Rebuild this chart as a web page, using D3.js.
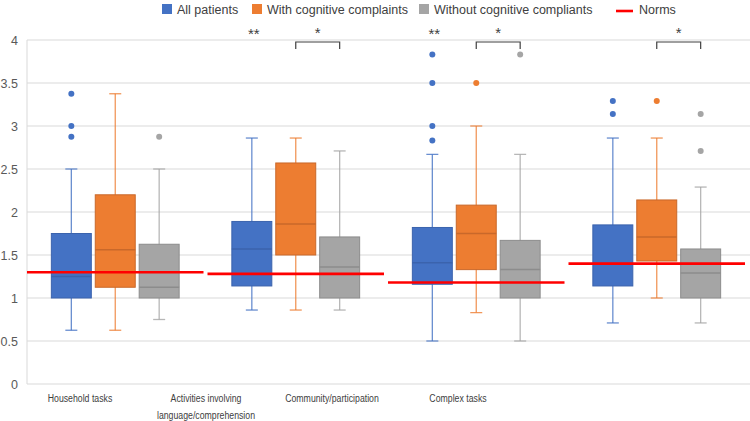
<!DOCTYPE html>
<html>
<head>
<meta charset="utf-8">
<script src="https://cdn.jsdelivr.net/npm/d3@7"></script>
<style>
  body { margin: 0; background: #fff; }
  svg { font-family: "Liberation Sans", Arial, sans-serif; }
</style>
</head>
<body>
<svg width="750" height="421"></svg>
<script>
const categories = ["Household tasks", "Activities involving language/comprehension", "Community/participation", "Complex tasks"];
const series = ["All patients", "With cognitive complaints", "Without cognitive compliants"];
const colors = ["#4472C4", "#ED7D31", "#A5A5A5"];
const darker = ["#3b63ad", "#c9682a", "#8c8c8c"];

// [min, q1, median, q3, max]
const allPatients = [[0.625, 1.0, 1.25, 1.75, 2.5], [0.86, 1.14, 1.57, 1.89, 2.86], [0.5, 1.16, 1.41, 1.82, 2.67], [0.71, 1.14, 1.40, 1.85, 2.86]];
const withComplaints = [[0.625, 1.125, 1.5625, 2.2, 3.375], [0.86, 1.5, 1.86, 2.57, 2.86], [0.83, 1.33, 1.75, 2.08, 3.0], [1.0, 1.43, 1.71, 2.14, 2.86]];
const withoutComplaints = [[0.75, 1.0, 1.125, 1.625, 2.5], [0.86, 1.0, 1.36, 1.71, 2.71], [0.5, 1.0, 1.33, 1.67, 2.67], [0.71, 1.0, 1.29, 1.57, 2.29]];

const allOutliers = [[2.875, 3.0, 3.375], [], [2.83, 3.0, 3.5, 3.83], [3.14, 3.29]];
const withOutliers = [[], [], [3.5], [3.29]];
const withoutOutliers = [[2.875], [], [3.83], [2.71, 3.14]];

const norms = [1.3, 1.28, 1.18, 1.40];
const overallSig = ["", "**", "**", ""];
const pairSig = ["", "*", "*", "*"];
const yTicks = [0, 0.5, 1, 1.5, 2, 2.5, 3, 3.5, 4];

const stats = [allPatients, withComplaints, withoutComplaints];
const outliers = [allOutliers, withOutliers, withoutOutliers];

const svg = d3.select('svg');

const x0 = d3.scaleBand().domain(categories).range([25, 747]);
const x1 = d3.scaleBand().domain(series).range([0, x0.bandwidth()]).paddingInner(0.09).paddingOuter(0.6);
const xl = d3.scaleBand().domain(categories).range([17, 521]);
const y = d3.scaleLinear().domain([0, 4]).range([384, 40]);

// gridlines
svg.append('g')
  .selectAll('line')
  .data(yTicks)
  .enter()
  .append('line')
  .attr('x1', 27).attr('x2', 750)
  .attr('y1', d => y(d)).attr('y2', d => y(d))
  .attr('stroke', '#d9d9d9').attr('stroke-width', 1);

svg.append('line')
  .attr('x1', 27).attr('x2', 27)
  .attr('y1', y(0)).attr('y2', y(4))
  .attr('stroke', '#d9d9d9');

// y axis
const yAxis = svg.append('g')
  .attr('transform', 'translate(27,0)')
  .call(d3.axisLeft(y).tickValues(yTicks).tickSize(0).tickPadding(9).tickFormat(d3.format('')));
yAxis.select('.domain').remove();
yAxis.selectAll('text')
  .attr('fill', '#595959')
  .style('font-size', '12.5px')
  .style('font-family', '"Liberation Sans", Arial, sans-serif');

// x labels (squeezed horizontally, the original font is a narrow one)
const xAxis = svg.append('g')
  .attr('transform', 'translate(0,384)')
  .call(d3.axisBottom(xl).tickSize(0).tickPadding(10));
xAxis.select('.domain').remove();
xAxis.selectAll('text')
  .attr('fill', '#404040')
  .attr('transform', 'scale(0.76,1)')
  .style('font-size', '11.5px')
  .style('font-family', '"Liberation Sans", Arial, sans-serif')
  .each(function(d) {
    const t = d3.select(this);
    let lines = [d];
    if (d.length > 24) {
      const k = d.lastIndexOf(' ');
      lines = [d.slice(0, k), d.slice(k + 1)];
    }
    t.text(null);
    lines.forEach((l, i) => {
      t.append('tspan').attr('x', 0).attr('dy', i === 0 ? '0.71em' : '1.45em').text(l);
    });
  });

// boxes
const boxData = [];
series.forEach((s, si) => {
  categories.forEach((c, ci) => {
    const [mn, q1, md, q3, mx] = stats[si][ci];
    boxData.push({ s, si, c, mn, q1, md, q3, mx, out: outliers[si][ci] });
  });
});

const bw = x1.bandwidth();
const g = svg.append('g')
  .selectAll('g')
  .data(boxData)
  .enter()
  .append('g')
  .attr('transform', d => `translate(${x0(d.c) + x1(d.s)},0)`);

// whiskers
g.append('line')
  .attr('x1', bw / 2).attr('x2', bw / 2)
  .attr('y1', d => y(d.mx)).attr('y2', d => y(d.mn))
  .attr('stroke', d => colors[d.si]).attr('stroke-opacity', 0.8).attr('stroke-width', 1.3);
g.append('line')
  .attr('x1', bw / 2 - 6).attr('x2', bw / 2 + 6)
  .attr('y1', d => y(d.mx)).attr('y2', d => y(d.mx))
  .attr('stroke', d => colors[d.si]).attr('stroke-opacity', 0.8).attr('stroke-width', 1.3);
g.append('line')
  .attr('x1', bw / 2 - 6).attr('x2', bw / 2 + 6)
  .attr('y1', d => y(d.mn)).attr('y2', d => y(d.mn))
  .attr('stroke', d => colors[d.si]).attr('stroke-opacity', 0.8).attr('stroke-width', 1.3);

g.append('rect')
  .attr('x', 0).attr('width', bw)
  .attr('y', d => y(d.q3))
  .attr('height', d => y(d.q1) - y(d.q3))
  .attr('fill', d => colors[d.si])
  .attr('stroke', d => darker[d.si]).attr('stroke-width', 1);

g.append('line')
  .attr('x1', 0).attr('x2', bw)
  .attr('y1', d => y(d.md)).attr('y2', d => y(d.md))
  .attr('stroke', d => darker[d.si]).attr('stroke-width', 1.5);

g.selectAll('circle')
  .data(d => d.out.map(v => ({ v, si: d.si })))
  .enter()
  .append('circle')
  .attr('cx', bw / 2)
  .attr('cy', d => y(d.v))
  .attr('r', 3)
  .attr('fill', d => colors[d.si]);

// norms
svg.append('g')
  .selectAll('line')
  .data(categories)
  .enter()
  .append('line')
  .attr('x1', d => x0(d) + 2)
  .attr('x2', d => x0(d) + x0.bandwidth() - 2)
  .attr('y1', (d, i) => y(norms[i]))
  .attr('y2', (d, i) => y(norms[i]))
  .attr('stroke', '#ff0000').attr('stroke-width', 2.6);

// significance
const sig = svg.append('g').attr('fill', '#404040').style('font-size', '15px');
categories.forEach((c, i) => {
  if (overallSig[i]) {
    sig.append('text')
      .attr('x', x0(c) + x1(series[0]) + bw / 2 + 2)
      .attr('y', 39)
      .attr('text-anchor', 'middle')
      .text(overallSig[i]);
  }
  if (pairSig[i]) {
    const a = x0(c) + x1(series[1]) + bw / 2;
    const b = x0(c) + x1(series[2]) + bw / 2;
    sig.append('path')
      .attr('d', `M${a},49V42H${b}V49`)
      .attr('fill', 'none')
      .attr('stroke', '#404040').attr('stroke-width', 1.2);
    sig.append('text')
      .attr('x', (a + b) / 2)
      .attr('y', 38)
      .attr('text-anchor', 'middle')
      .text(pairSig[i]);
  }
});

// legend
const legendX = [162, 252, 419];
const legend = svg.append('g').style('font-size', '12.5px').attr('fill', '#404040');
series.forEach((s, i) => {
  legend.append('rect')
    .attr('x', legendX[i]).attr('y', 4)
    .attr('width', 10).attr('height', 10)
    .attr('fill', colors[i]);
  legend.append('text')
    .attr('x', legendX[i] + 15).attr('y', 14)
    .text(s);
});
legend.append('line')
  .attr('x1', 616).attr('x2', 633)
  .attr('y1', 11).attr('y2', 11)
  .attr('stroke', '#ff0000').attr('stroke-width', 2.6);
legend.append('text')
  .attr('x', 639).attr('y', 14)
  .text('Norms');
</script>
</body>
</html>
